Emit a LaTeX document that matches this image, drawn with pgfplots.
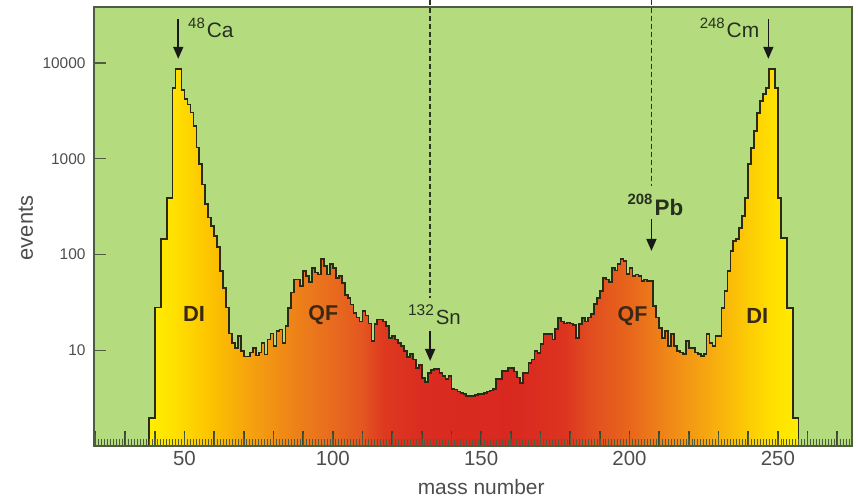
\documentclass[border=0pt]{standalone}
\usepackage{fontspec}
\setmainfont{Liberation Sans}
\usepackage{pgfplots}
\usepackage{pgfplotstable}
\pgfplotsset{compat=1.18}
\usetikzlibrary{arrows.meta}

\definecolor{bggreen}{HTML}{B5DB7F}
\definecolor{axgray}{HTML}{4E5C42}
\definecolor{tickdark}{HTML}{3A4630}
\definecolor{outline}{HTML}{2A2A16}
\definecolor{labgray}{HTML}{4D4D4D}
\definecolor{annot}{HTML}{26301E}
\definecolor{dibrown}{HTML}{3A2814}
\definecolor{dashcol}{HTML}{2A3522}

\definecolor{s1}{HTML}{FFEE00}
\definecolor{s2}{HTML}{FFE000}
\definecolor{s3}{HTML}{FCC000}
\definecolor{s4}{HTML}{F5A010}
\definecolor{s5}{HTML}{EE8418}
\definecolor{s6}{HTML}{E86C1E}
\definecolor{s7}{HTML}{E45620}
\definecolor{s8}{HTML}{DE3A20}
\definecolor{s9}{HTML}{DA2C20}
\definecolor{s10}{HTML}{D92820}
\definecolor{s11}{HTML}{DC3420}
\definecolor{s12}{HTML}{E04A20}
\definecolor{s13}{HTML}{E8661C}
\definecolor{s14}{HTML}{F08818}
\definecolor{s15}{HTML}{F6A810}
\definecolor{s16}{HTML}{FCCC04}

\pgfdeclarehorizontalshading{heat}{100bp}{%
color(0bp)=(s1); color(25bp)=(s1); color(27bp)=(s2); color(30bp)=(s3);
color(33bp)=(s4); color(36bp)=(s5); color(39bp)=(s6); color(41.4bp)=(s7);
color(43bp)=(s8); color(46bp)=(s9); color(52.8bp)=(s10); color(57bp)=(s11);
color(58.6bp)=(s12); color(62bp)=(s13); color(65bp)=(s14); color(68bp)=(s15);
color(71.1bp)=(s16); color(73bp)=(s2); color(75bp)=(s1); color(100bp)=(s1)}

\pgfplotstableread{
x y
38 1
38 1.96
39 1.96
40 28
41 28
42 145
43 145
44 390
45 390
46 5500
47 8700
48 8700
49 5200
50 4200
51 3700
52 3040
53 2200
54 1310
55 880
56 540
57 336
58 243
59 199
60 156
61 120
62 67
63 45
64 28
65 15
66 12
67 10.5
68 14
69 9.8
70 8.6
71 8.6
72 9.5
73 10.5
74 8.8
75 9.5
76 12
77 9.0
78 13
79 15
80 11
81 16
82 16.5
83 12
84 18
85 27.7
86 40
87 55
88 55
89 47
90 67
91 60
92 52
93 72
94 65
95 62
96 90
97 76
98 62
99 80
100 72
101 57
102 60
103 50
104 38
105 35
106 30
107 24.5
108 22
109 20
110 25.7
111 23
112 19
113 12.5
114 18.8
115 21
116 21
117 20
118 18
119 13.4
120 14
121 13
122 12
123 11
124 9.8
125 8.5
126 9.2
127 8
128 6.5
129 7
130 5.1
131 4.7
132 5.8
133 6.2
134 6.4
135 6.4
136 5.8
137 5.4
138 5.0
139 5.4
140 3.94
141 3.9
142 3.7
143 3.6
144 3.5
145 3.33
146 3.33
147 3.33
148 3.4
149 3.5
150 3.5
151 3.6
152 3.7
153 3.8
154 3.94
155 5.0
156 5.0
157 6.1
158 6.1
159 6.5
160 6.5
161 6.0
162 5.2
163 4.55
164 5.8
165 5.8
166 7.4
167 8
168 9.8
169 9.4
170 11.6
171 14.8
172 14.8
173 14.8
174 13
175 16.7
176 21.7
177 20
178 19
179 19.5
180 19
181 18.5
182 13.4
183 18.8
184 21.7
185 20
186 22
187 24
188 30.4
189 35.4
190 41.5
191 57
192 55
193 52
194 72.5
195 68
196 80
197 90
198 85
199 63
200 72.5
201 60
202 62
203 60
204 53
205 55
206 53
207 53
208 29
209 22
210 17
211 13.4
212 15.9
213 11
214 14.8
215 11
216 9.8
217 9.5
218 9.1
219 12.5
220 10.5
221 10.5
222 9.5
223 9.1
224 8.7
225 9.2
226 14.8
227 12
228 11
229 14
230 14
231 27.7
232 41.6
233 67
234 109
235 138
236 145
237 190
238 253
239 390
240 880
241 1300
242 1950
243 3030
244 4030
245 4750
246 5500
247 8700
248 8700
249 5500
250 390
251 150
252 150
253 27.7
254 27.7
255 1.96
256 1.96
257 1
}\histdata

\newcommand\iso[4]{{\fontsize{#3}{#3}\selectfont\raisebox{#4}{#1}}\hspace{2bp}#2}

\begin{document}
\begin{tikzpicture}
\path[use as bounding box] (-94bp,-58bp) rectangle (764bp,446bp);
\begin{axis}[
  at={(0,0)}, anchor=south west,
  scale only axis, width=758bp, height=439bp,
  ymode=log, xmin=19.5, xmax=275, ymin=1, ymax=38500,
  axis background/.style={fill=bggreen},
  axis line style={draw=axgray, line width=1.5bp},
  axis on top, clip=false,
  xtick={20,30,...,270},
  xticklabels={{},{},{},50,{},{},{},{},100,{},{},{},{},150,{},{},{},{},200,{},{},{},{},250,{},{}},
  minor xtick={20,21,...,275},
  ytick={10,100,1000,10000},
  yticklabels={10,100,1000,10000},
  yminorticks=false,
  xtick pos=left, ytick pos=left, tick align=inside,
  major tick length=12bp, minor tick length=7bp,
  major tick style={draw=axgray, line width=1.2bp},
  minor tick style={draw=axgray, line width=0.6bp},
  /pgf/number format/assume math mode=true,
  xticklabel style={font=\fontsize{20.5}{24}\selectfont, text=labgray, yshift=-2bp},
  yticklabel style={font=\fontsize{15.5}{18}\selectfont, text=labgray, xshift=-5bp},
]
\addplot[const plot, draw=outline, line width=1.7bp, shade, shading=heat] table {\histdata};

\pgfplotsinvokeforeach{20,30,40,50,60,70,80,90,100,110,120,130,140,150,160,170,180,190,200,210,220,230,240,250,260,270}{%
  \draw[tickdark, line width=1.5bp] (axis cs:#1,1) -- (axis cs:#1,1.45);
}

\draw[dashcol, line width=1.3bp, dash pattern=on 5bp off 3bp] (axis cs:132.8,46000) -- (axis cs:132.8,35);
\draw[dashcol, line width=1.3bp, dash pattern=on 5bp off 3bp] (axis cs:207.4,46000) -- (axis cs:207.4,521);

\draw[-{Triangle[length=12bp,width=10bp]}, line width=1.6bp, black!90] (axis cs:47.9,28950) -- (axis cs:47.9,11070);
\draw[-{Triangle[length=12bp,width=10bp]}, line width=1.6bp, black!90] (axis cs:246.8,28950) -- (axis cs:246.8,11070);
\draw[-{Triangle[length=12bp,width=10bp]}, line width=1.6bp, black!90] (axis cs:207.4,235) -- (axis cs:207.4,109);
\draw[-{Triangle[length=12bp,width=10bp]}, line width=1.6bp, black!90] (axis cs:132.8,16) -- (axis cs:132.8,7.73);

\node[anchor=base west, text=annot, font=\fontsize{21}{24}\selectfont, inner sep=0pt] at (axis cs:51.2,18340) {\iso{48}{Ca}{15}{9bp}};
\node[anchor=base east, text=annot, font=\fontsize{21}{24}\selectfont, inner sep=0pt] at (axis cs:243.8,18340) {\iso{248}{Cm}{15}{9bp}};
\node[anchor=base west, text=annot, font=\fontsize{22.5}{24}\selectfont\bfseries, inner sep=0pt] at (axis cs:199.3,253) {\iso{208}{Pb}{15}{11bp}};
\node[anchor=base west, text=annot, font=\fontsize{20.5}{24}\selectfont, inner sep=0pt] at (axis cs:125.3,18.4) {\iso{132}{Sn}{15.5}{9bp}};

\node[text=dibrown, font=\fontsize{22}{24}\selectfont\bfseries] at (axis cs:53.2,23.7) {DI};
\node[text=dibrown, font=\fontsize{22}{24}\selectfont\bfseries] at (axis cs:243.1,22.8) {DI};
\node[text=dibrown, font=\fontsize{21.5}{24}\selectfont\bfseries] at (axis cs:96.8,23.4) {QF};
\node[text=dibrown, font=\fontsize{21.5}{24}\selectfont\bfseries] at (axis cs:201,22.8) {QF};

\node[anchor=base, text=labgray, font=\fontsize{21}{24}\selectfont] at (axis cs:150,0.315) {mass number};
\node[rotate=90, anchor=center, text=labgray, font=\fontsize{22}{24}\selectfont] at (axis description cs:-0.0897,0.4966) {events};
\end{axis}
\end{tikzpicture}
\end{document}
